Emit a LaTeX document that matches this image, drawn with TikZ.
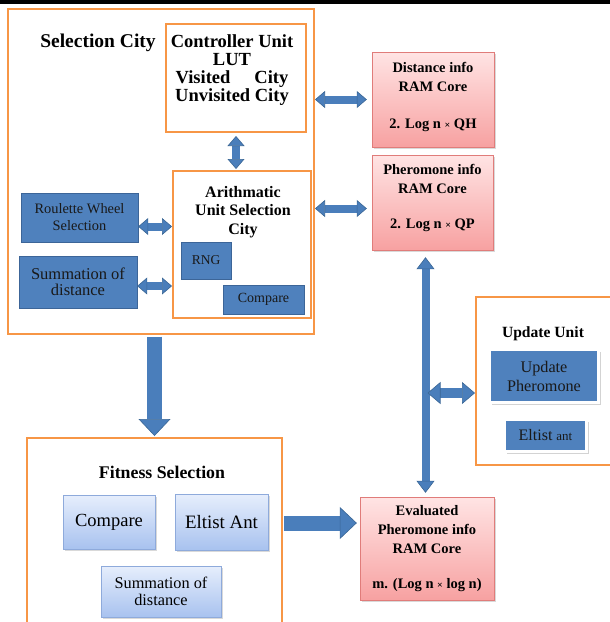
\documentclass[tikz,border=0pt]{standalone}
\usepackage{fontspec}
\setmainfont{Liberation Serif}
\usetikzlibrary{arrows.meta}
\usetikzlibrary{positioning}
\usetikzlibrary{shadows}
\usetikzlibrary{calc}
\definecolor{boxorange}{HTML}{F79646}
\definecolor{unitblue}{HTML}{4F81BD}
\definecolor{unitedge}{HTML}{3C6598}
\definecolor{arrowblue}{HTML}{4A7EBB}
\definecolor{arrowedge}{HTML}{3A6695}
\definecolor{pinktop}{HTML}{FFE4E4}
\definecolor{pinkbot}{HTML}{F7A1A1}
\definecolor{pinkedge}{HTML}{E07C7A}
\definecolor{skytop}{HTML}{E6EEFC}
\definecolor{skybot}{HTML}{A8C2EF}
\definecolor{skyedge}{HTML}{8EAADB}
\tikzstyle{dblarrow} = [draw=arrowblue, line width=8pt,
  arrows={Triangle[length=10pt,width=17pt,fill=arrowblue,color=arrowedge,line width=0.6pt 0 0]-Triangle[length=10pt,width=17pt,fill=arrowblue,color=arrowedge,line width=0.6pt 0 0]}]
\tikzstyle{vtarrow} = [draw=arrowblue, line width=8pt,
  arrows={Triangle[length=12pt,width=18pt,fill=arrowblue,color=arrowedge,line width=0.6pt 0 0]-Triangle[length=12pt,width=18pt,fill=arrowblue,color=arrowedge,line width=0.6pt 0 0]}]
\tikzstyle{updarrow} = [draw=arrowblue, line width=10pt,
  arrows={Triangle[length=13pt,width=22pt,fill=arrowblue,color=arrowedge,line width=0.6pt 0 0]-Triangle[length=13pt,width=22pt,fill=arrowblue,color=arrowedge,line width=0.6pt 0 0]}]
\tikzstyle{bigarrow} = [draw=arrowblue, line width=15pt,
  arrows={-Triangle[length=17pt,width=32pt,fill=arrowblue,color=arrowedge,line width=0.6pt 0 0]}]

\begin{document}
\begin{tikzpicture}[x=1pt, y=-1pt,
		unit/.style = {draw=boxorange, line width=2pt, inner sep=0pt},
		darkbox/.style = {draw=unitedge, fill=unitblue, text=black!90, inner sep=0pt, align=center},
		framed/.style = {draw=white, line width=3pt, fill=unitblue, text=black!90, inner sep=0pt, align=center,
			drop shadow={shadow xshift=2pt, shadow yshift=-2pt, opacity=0.35}},
		rambox/.style = {draw=pinkedge, top color=pinktop, bottom color=pinkbot, inner sep=0pt,
			drop shadow={shadow xshift=1.5pt, shadow yshift=-1.5pt, opacity=0.3}},
		skybox/.style = {draw=skyedge, top color=skytop, bottom color=skybot, inner sep=0pt, align=center,
			drop shadow={shadow xshift=1.5pt, shadow yshift=-1.5pt, opacity=0.3}},
		headtext/.style = {inner sep=0pt, align=center, font=\bfseries},
		ramtext/.style = {inner sep=0pt, align=center, font=\fontsize{14.5}{19}\selectfont\bfseries}]

		\useasboundingbox (0,0) rectangle (610,622);
		\fill[black] (0,0) rectangle (610,4);

		% Selection city
		\node[unit, minimum width=306pt, minimum height=325pt] (selcity) at (161,171.5) {};
		\node[headtext, font=\fontsize{19.5}{20}\selectfont\bfseries] (seltitle) at (98,43) {Selection City};

		% Controller unit
		\node[unit, minimum width=140pt, minimum height=108pt] (ctrl) at (236,78) {};
		\node[headtext, font=\fontsize{18.5}{18}\selectfont\bfseries] (ctrltxt) at (232,70.5)
			{Controller Unit\\LUT\\Visited\hspace{1.3em}City\\Unvisited City};

		% Arithmatic unit
		\node[unit, minimum width=138pt, minimum height=147pt] (arith) at (242,244.5) {};
		\node[headtext, font=\fontsize{16}{18.5}\selectfont\bfseries] (arithtxt) at (243,212)
			{Arithmatic\\Unit Selection\\City};
		\node[darkbox, minimum width=50pt, minimum height=37pt, font=\fontsize{13.5}{14}\selectfont] (rng) at (206,260.5) {RNG};
		\node[darkbox, minimum width=81pt, minimum height=29pt, font=\fontsize{14}{14}\selectfont] (cmp1) at (263.5,299.5) {Compare};

		% Left units
		\node[darkbox, minimum width=117pt, minimum height=49pt, font=\fontsize{14.4}{17}\selectfont] (roul) at (79.5,217.5)
			{Roulette Wheel\\Selection};
		\node[darkbox, minimum width=118pt, minimum height=52pt, font=\fontsize{16.5}{16.5}\selectfont] (sum1) at (78,282)
			{Summation of\\distance};

		% RAM cores
		\node[rambox, minimum width=122pt, minimum height=95pt] (dist) at (433,99.5) {};
		\node[ramtext] (disttxt) at (433,96.5)
			{Distance info\\RAM Core\\[18pt]2. Log n {\fontsize{10}{10}\selectfont ×} QH};
		\node[rambox, minimum width=121pt, minimum height=95pt] (pher) at (432.5,202.5) {};
		\node[ramtext] (phertxt) at (432.5,197.5)
			{Pheromone info\\RAM Core\\[16pt]2. Log n {\fontsize{10}{10}\selectfont ×} QP};
		\node[rambox, minimum width=134pt, minimum height=103pt] (eval) at (427,548.5) {};
		\node[ramtext] (evaltxt) at (427,549)
			{Evaluated\\Pheromone info\\RAM Core\\[16pt]m. (Log n {\fontsize{10}{10}\selectfont ×} log n)};

		% Update unit
		\node[unit, minimum width=136pt, minimum height=168pt] (upd) at (544,381) {};
		\node[headtext, font=\fontsize{15.6}{16}\selectfont\bfseries] (updtitle) at (543,333.5) {Update Unit};
		\node[framed, minimum width=109pt, minimum height=53pt, font=\fontsize{16.2}{19}\selectfont] (updph) at (544,376)
			{Update\\Pheromone};
		\node[framed, minimum width=82pt, minimum height=32pt, font=\fontsize{16}{16}\selectfont] (elt2) at (545.5,435.5)
			{Eltist {\fontsize{13}{13}\selectfont ant}};

		% Fitness selection
		\node[unit, minimum width=255pt, minimum height=202pt] (fit) at (154.5,539) {};
		\node[headtext, font=\fontsize{17.8}{18}\selectfont\bfseries] (fittitle) at (162,472.5) {Fitness Selection};
		\node[skybox, minimum width=92pt, minimum height=54pt, font=\fontsize{18.5}{18.5}\selectfont] (cmp2) at (109,522) {Compare};
		\node[skybox, minimum width=93pt, minimum height=56pt, font=\fontsize{18.9}{19}\selectfont] (elt1) at (221.5,522) {Eltist Ant};
		\node[skybox, minimum width=120pt, minimum height=51pt, font=\fontsize{16.3}{17}\selectfont] (sum2) at (161,591.5)
			{Summation of\\distance};

		% Arrows inside selection city
		\draw[dblarrow] ([yshift=-3pt]ctrl.south) -- ([yshift=1pt]ctrl.south |- arith.north);
		\coordinate (roulout) at ([yshift=-9pt]roul.east);
		\coordinate (sumout) at ([yshift=-4pt]sum1.east);
		\draw[dblarrow] (roulout) -- (roulout -| arith.west);
		\draw[dblarrow] (sumout) -- (sumout -| arith.west);

		% Arrows to RAM cores
		\coordinate (distin) at ([xshift=-5pt]dist.west);
		\coordinate (pherin) at ([xshift=-5pt,yshift=-6pt]pher.west);
		\draw[dblarrow] (distin -| selcity.east) -- (distin);
		\draw[dblarrow] (pherin -| selcity.east) -- (pherin);

		% Pheromone to evaluated, and update unit
		\coordinate (vtop) at ([xshift=-7pt,yshift=-7pt]pher.south);
		\coordinate (vbot) at ([yshift=4pt]vtop |- eval.north);
		\draw[vtarrow] (vtop) -- (vbot);
		\coordinate (updin) at ([yshift=-12pt]upd.west);
		\coordinate (junc) at ([xshift=2pt]vtop |- updin);
		\draw[updarrow] (junc) -- (updin);

		% Selection to fitness to evaluated
		\coordinate (selout) at ([yshift=-1.5pt]selcity.south);
		\coordinate (fitin) at ([yshift=1pt]fit.north);
		\draw[bigarrow] (fitin |- selout) -- (fitin);
		\coordinate (evin) at ([xshift=-3pt,yshift=25.5pt]eval.west);
		\draw[bigarrow] ([xshift=1pt]evin -| fit.east) -- (evin);
\end{tikzpicture}
\end{document}
